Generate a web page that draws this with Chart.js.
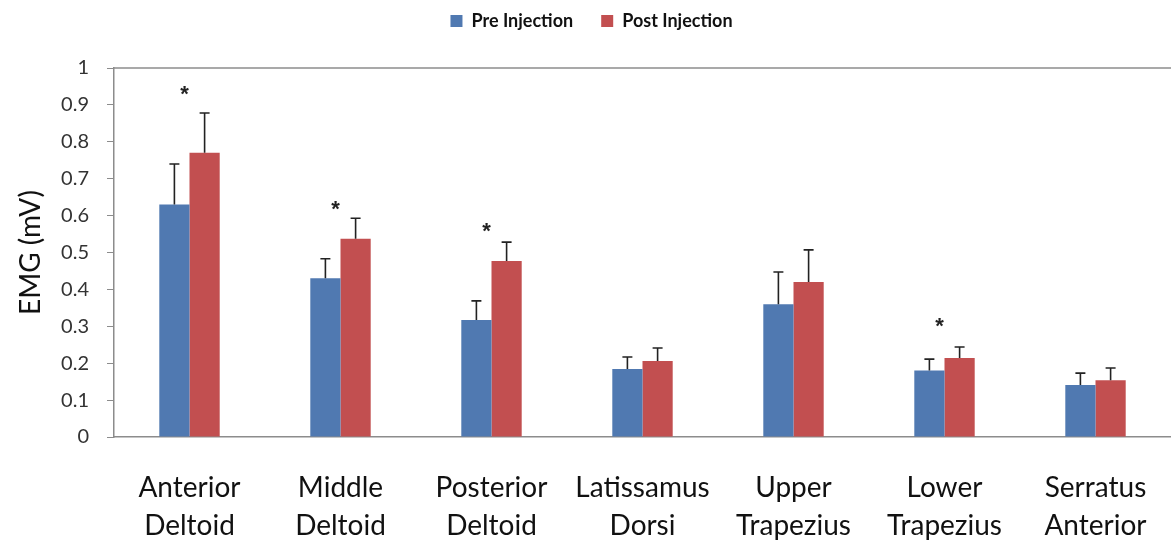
<!DOCTYPE html>
<html>
<head>
<meta charset="utf-8">
<script src="https://cdn.jsdelivr.net/npm/chart.js@4"></script>
<style>
  html, body { margin: 0; padding: 0; background: #fff; }
  #wrap { width: 1171px; height: 545px; }
</style>
</head>
<body>
<div id="wrap"><canvas id="emgChart"></canvas></div>
<script>
// muscles on the x axis
var muscles = [
  ['Anterior', 'Deltoid'],
  ['Middle', 'Deltoid'],
  ['Posterior', 'Deltoid'],
  ['Latissamus', 'Dorsi'],
  ['Upper', 'Trapezius'],
  ['Lower', 'Trapezius'],
  ['Serratus', 'Anterior']
];

var preMean = [0.63, 0.43, 0.317, 0.184, 0.36, 0.18, 0.141];
var preErr  = [0.11, 0.053, 0.052, 0.033, 0.087, 0.031, 0.032];
var postMean = [0.77, 0.537, 0.477, 0.206, 0.42, 0.214, 0.154];
var postErr  = [0.108, 0.056, 0.051, 0.035, 0.087, 0.03, 0.033];

// significance stars (null = none), height in mV
var starLevel = [0.94, 0.628, 0.568, null, null, 0.313, null];

var yTicks = [0, 0.1, 0.2, 0.3, 0.4, 0.5, 0.6, 0.7, 0.8, 0.9, 1];

var errData = [preErr, postErr];

// plus-only error bars with caps
var errorBars = {
  id: 'errorBars',
  afterDatasetsDraw: function(chart) {
    var ctx = chart.ctx, y = chart.scales.y;
    ctx.save();
    ctx.strokeStyle = '#222';
    ctx.lineWidth = 1.6;
    chart.data.datasets.forEach(function(ds, di) {
      var meta = chart.getDatasetMeta(di);
      meta.data.forEach(function(bar, i) {
        var top = y.getPixelForValue(ds.data[i] + errData[di][i]);
        ctx.beginPath();
        ctx.moveTo(bar.x, bar.y);
        ctx.lineTo(bar.x, top);
        ctx.moveTo(bar.x - 5, top);
        ctx.lineTo(bar.x + 5, top);
        ctx.stroke();
      });
    });
    ctx.restore();
  }
};

var stars = {
  id: 'stars',
  afterDatasetsDraw: function(chart) {
    var ctx = chart.ctx, x = chart.scales.x, y = chart.scales.y;
    ctx.save();
    ctx.fillStyle = '#222';
    ctx.font = 'bold 22px "Liberation Sans"';
    ctx.textAlign = 'center';
    ctx.textBaseline = 'middle';
    starLevel.forEach(function(v, i) {
      if (v === null) return;
      ctx.fillText('*', x.getPixelForValue(i) - 5, y.getPixelForValue(v) + 5);
    });
    ctx.restore();
  }
};

var topLine = {
  id: 'topLine',
  beforeDatasetsDraw: function(chart) {
    var a = chart.chartArea, ctx = chart.ctx;
    ctx.save();
    ctx.strokeStyle = '#8c8c8c';
    ctx.lineWidth = 1.5;
    ctx.beginPath();
    ctx.moveTo(a.left, a.top);
    ctx.lineTo(a.right, a.top);
    ctx.stroke();
    ctx.restore();
  }
};

var legendGap = {
  id: 'legendGap',
  beforeInit: function(chart) {
    var fit = chart.legend.fit;
    chart.legend.fit = function() {
      fit.bind(chart.legend)();
      this.height += 28;
    };
  }
};

new Chart(document.getElementById('emgChart'), {
  type: 'bar',
  data: {
    labels: muscles,
    datasets: [
      { label: 'Pre Injection', data: preMean, backgroundColor: '#5079b1' },
      { label: 'Post Injection', data: postMean, backgroundColor: '#c24f50' }
    ]
  },
  options: {
    responsive: true,
    maintainAspectRatio: false,
    animation: false,
    layout: { padding: { top: -16, right: 0, left: 12, bottom: 0 } },
    datasets: { bar: { barPercentage: 1, categoryPercentage: 0.4 } },
    plugins: {
      legend: {
        position: 'top',
        labels: {
          boxWidth: 12, boxHeight: 12, padding: 28, color: '#111',
          font: { family: 'Lato', size: 18, weight: 'bold' }
        }
      },
      tooltip: { enabled: false }
    },
    scales: {
      x: {
        grid: { display: false },
        border: { color: '#8c8c8c', width: 1.5 },
        ticks: {
          color: '#111', padding: 24, maxRotation: 0, autoSkip: false,
          font: { family: 'Lato', size: 28, lineHeight: 1.35 }
        },
        afterFit: function(s) { s.height = 108; }
      },
      y: {
        min: 0, max: 1,
        afterBuildTicks: function(s) { s.ticks = yTicks.map(function(v) { return { value: v }; }); },
        grid: { drawOnChartArea: false, tickLength: 7, color: '#8c8c8c' },
        border: { color: '#8c8c8c', width: 1.5 },
        ticks: {
          color: '#333', padding: 18,
          font: { family: 'Lato', size: 20 },
          callback: function(v) { return String(Math.round(v * 10) / 10); }
        },
        title: {
          display: true, text: 'EMG (mV)', color: '#111',
          padding: { top: 2, bottom: 0 },
          font: { family: 'Lato', size: 28 }
        },
        afterFit: function(s) { s.width = 102; }
      }
    }
  },
  plugins: [errorBars, stars, topLine, legendGap]
});
</script>
</body>
</html>
